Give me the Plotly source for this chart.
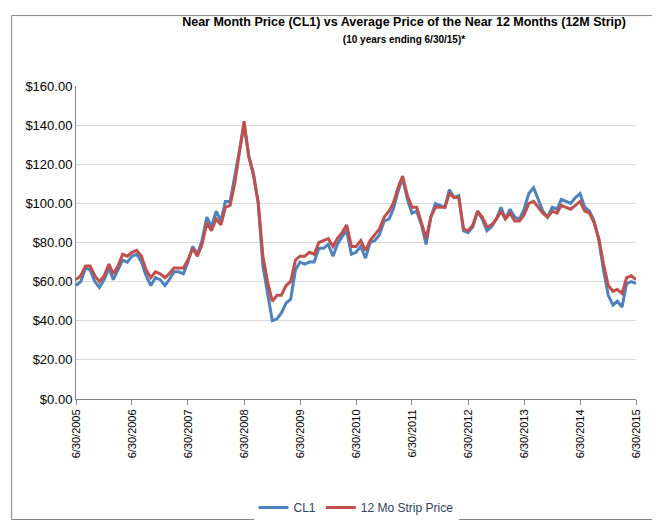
import pandas as pd
import plotly.graph_objects as go

# month-end readings, 6/30/2005 .. 6/30/2015
dates = pd.date_range("2005-06-30", "2015-06-30", freq="ME")

cl1 = [
    58, 60, 67, 66, 60, 57, 61,                              # 2005 Jun-Dec
    67, 61, 66, 71, 70, 73, 74, 70, 63, 58, 62, 61,          # 2006
    58, 61, 65, 65, 64, 70, 78, 74, 81, 93, 88, 96,          # 2007
    91, 101, 101, 113, 127, 140, 124, 115, 100, 68, 54, 40,  # 2008
    41, 44, 49, 51, 66, 70, 69, 70, 70, 77, 77, 79,          # 2009
    73, 79, 83, 86, 74, 75, 78, 72, 80, 81, 84, 91,          # 2010
    92, 97, 106, 113, 102, 95, 96, 89, 79, 93, 100, 99,      # 2011
    98, 107, 103, 104, 86, 85, 88, 96, 92, 86, 88, 92,       # 2012
    98, 92, 97, 93, 92, 97, 105, 108, 102, 96, 93, 98,       # 2013
    97, 102, 101, 100, 103, 105, 98, 96, 91, 81, 66, 53,     # 2014
    48, 50, 47, 59, 60, 59,                                  # 2015 Jan-Jun
]

strip = [
    61, 63, 68, 68, 63, 60, 63,
    69, 64, 68, 74, 73, 75, 76, 73, 66, 62, 65, 64,
    62, 64, 67, 67, 67, 71, 77, 73, 79, 90, 86, 92,
    89, 98, 99, 110, 127, 142, 124, 114, 101, 73, 60, 50,
    53, 53, 58, 60, 71, 73, 73, 75, 74, 80, 81, 82,
    78, 82, 85, 89, 78, 78, 81, 76, 81, 84, 87, 93,
    96, 100, 108, 114, 104, 98, 98, 90, 82, 93, 98, 98,
    98, 105, 103, 103, 87, 86, 89, 96, 93, 88, 89, 92,
    96, 92, 95, 91, 91, 94, 100, 101, 98, 95, 93, 96,
    95, 99, 98, 97, 99, 101, 96, 95, 90, 82, 69, 58,
    55, 56, 54, 62, 63, 61,
]

tick_dates = pd.date_range("2005-06-30", "2015-06-30", freq="12ME")
tick_text = [f"6/30/{d.year}" for d in tick_dates]

fig = go.Figure()
fig.add_trace(go.Scatter(x=dates, y=cl1, mode="lines", name="CL1",
                         line=dict(color="#4F81BD", width=3)))
fig.add_trace(go.Scatter(x=dates, y=strip, mode="lines", name="12 Mo Strip Price",
                         line=dict(color="#C0504D", width=3)))

fig.update_xaxes(range=[tick_dates[0], tick_dates[-1]], tickvals=tick_dates,
                 ticktext=tick_text, tickangle=-90, showgrid=False,
                 showline=True, linecolor="#868686", ticks="outside",
                 tickcolor="#868686", tickfont=dict(size=11, color="#000"))
fig.update_yaxes(range=[0, 160], dtick=20, tickformat="$.2f", showgrid=True,
                 gridcolor="#D9D9D9", showline=True, linecolor="#868686",
                 zeroline=False, tickfont=dict(size=13, color="#000"))

fig.update_layout(
    width=660, height=526,
    font=dict(family="Liberation Sans, Arial"),
    plot_bgcolor="white", paper_bgcolor="white",
    margin=dict(l=68, r=32, t=78, b=128),
    title=dict(text="<b>Near Month Price (CL1) vs Average Price of the Near 12 Months (12M Strip)</b>"
                    "<br><span style='font-size:10px'><b>(10 years ending 6/30/15)*</b></span>",
               x=0.6, xanchor="center", y=0.965, yanchor="top",
               font=dict(size=12.5, color="#000")),
    legend=dict(orientation="h", x=0.5, xanchor="center", y=-0.3, yanchor="top",
                font=dict(size=12)),
    shapes=[dict(type="rect", xref="paper", yref="paper", x0=-0.115, y0=-0.385,
                 x1=1.045, y1=1.225, line=dict(color="#868686", width=1))],
)

fig.write_html("out.html")
